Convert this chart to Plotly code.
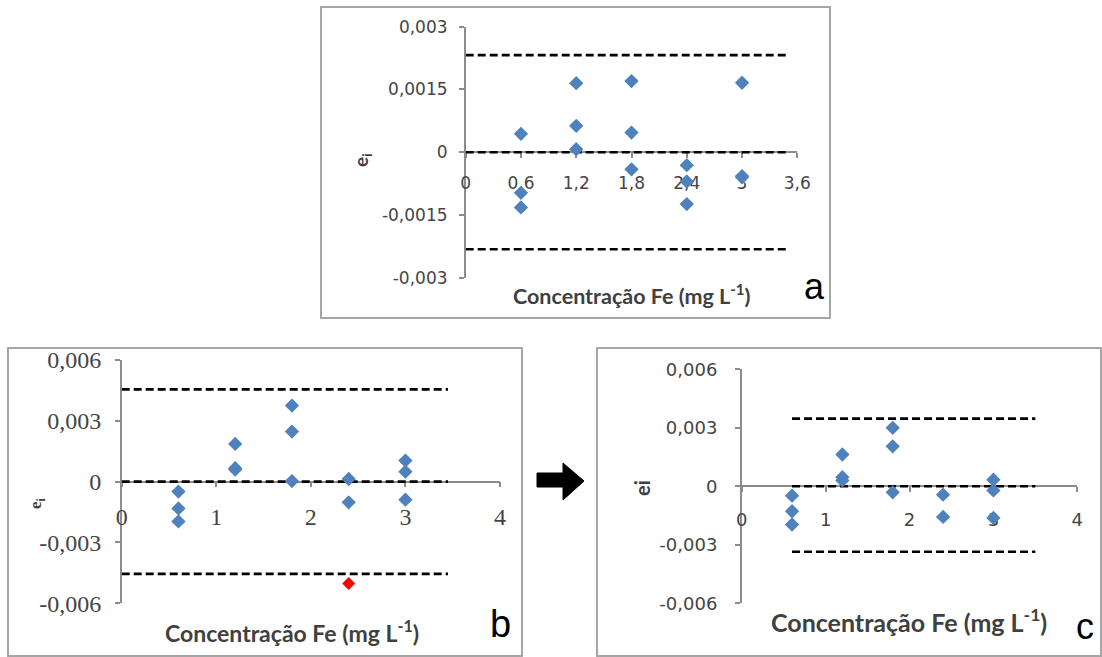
import plotly.graph_objects as go

# ---------------- data ----------------
a_x = [0.6, 0.6, 0.6, 1.2, 1.2, 1.2, 1.8, 1.8, 1.8, 2.4, 2.4, 2.4, 3.0, 3.0, 3.0]
a_y = [0.00044, -0.00097, -0.00132, 0.00165, 0.00063, 0.00007, 0.00170, 0.00047,
       -0.00041, -0.00031, -0.00070, -0.00124, 0.00166, -0.00057, -0.00060]

b_x = [0.6, 0.6, 0.6, 1.2, 1.2, 1.2, 1.8, 1.8, 1.8, 2.4, 2.4, 3.0, 3.0, 3.0]
b_y = [-0.00049, -0.00132, -0.00196, 0.00186, 0.00066, 0.00060, 0.00375, 0.00247,
       0.00003, 0.00013, -0.00102, 0.00104, 0.00049, -0.00089]
b_out_x = [2.4]
b_out_y = [-0.00502]

c_x = [0.6, 0.6, 0.6, 1.2, 1.2, 1.2, 1.8, 1.8, 1.8, 2.4, 2.4, 3.0, 3.0, 3.0]
c_y = [-0.00048, -0.00128, -0.00196, 0.00163, 0.00047, 0.00030, 0.00300, 0.00205,
       -0.00031, -0.00043, -0.00157, 0.00034, -0.00021, -0.00162]

a_lim_x = [0, 3.5]
a_lims = [0.00232, 0.0, -0.00232]
b_lim_x = [0, 3.45]
b_lims = [0.00455, 0.0, -0.00455]
c_lim_x = [0.6, 3.5]
c_lims = [0.00347, 0.0, -0.00336]

a_xticks = [0, 0.6, 1.2, 1.8, 2.4, 3, 3.6]
a_xtext = ["0", "0,6", "1,2", "1,8", "2,4", "3", "3,6"]
a_yticks = [-0.003, -0.0015, 0, 0.0015, 0.003]
a_ytext = ["-0,003", "-0,0015", "0", "0,0015", "0,003"]
bc_xticks = [0, 1, 2, 3, 4]
bc_xtext = ["0", "1", "2", "3", "4"]
bc_yticks = [-0.006, -0.003, 0, 0.003, 0.006]
bc_ytext = ["-0,006", "-0,003", "0", "0,003", "0,006"]

x_title = "Concentração Fe (mg L<sup>-1</sup>)"

# ---------------- style ----------------
W, H = 1102, 657
BLUE = "#4F81BD"
RED = "#FF0000"
AXC = "#8c8c8c"
TXT = "#454545"
DASH = "8px,4px"


def px(x):
    return x / W


def py(y):
    return 1 - y / H


fig = go.Figure()

panels = [
    ("x", "y", a_x, a_y, a_lim_x, a_lims),
    ("x2", "y2", b_x, b_y, b_lim_x, b_lims),
    ("x3", "y3", c_x, c_y, c_lim_x, c_lims),
]
for xa, ya, xs, ys, lx, lims in panels:
    for v in lims:
        fig.add_trace(go.Scatter(x=lx, y=[v, v], mode="lines", xaxis=xa, yaxis=ya,
                                 line=dict(color="black", width=2.6, dash=DASH),
                                 hoverinfo="skip", showlegend=False))
    fig.add_trace(go.Scatter(x=xs, y=ys, mode="markers", xaxis=xa, yaxis=ya,
                             marker=dict(symbol="diamond", size=11, color=BLUE),
                             showlegend=False))

fig.add_trace(go.Scatter(x=b_out_x, y=b_out_y, mode="markers", xaxis="x2", yaxis="y2",
                         marker=dict(symbol="diamond", size=10, color=RED),
                         showlegend=False))


def xaxis(dom, rng, pos, tv, tt, font, standoff):
    return dict(domain=dom, range=rng, anchor="free", position=pos,
                tickvals=tv, ticktext=tt, showgrid=False, zeroline=False,
                showline=True, linecolor=AXC, linewidth=1.5,
                ticks="outside", ticklen=5, tickcolor=AXC, tickwidth=1.5,
                tickfont=font, ticklabelstandoff=standoff,
                layer="below traces", automargin=False, fixedrange=True)


def yaxis(dom, rng, anchor, tv, tt, font, standoff):
    return dict(domain=dom, range=rng, anchor=anchor,
                tickvals=tv, ticktext=tt, showgrid=False, zeroline=False,
                showline=True, linecolor=AXC, linewidth=1.5,
                ticks="outside", ticklen=5, tickcolor=AXC, tickwidth=1.5,
                tickfont=font, ticklabelstandoff=standoff,
                layer="below traces", automargin=False, fixedrange=True)


fa = dict(family="DejaVu Sans", size=17, color=TXT)
fb = dict(family="Liberation Serif", size=24, color=TXT)
fc = dict(family="DejaVu Sans", size=18, color=TXT)

layout = dict(
    width=W, height=H, margin=dict(l=0, r=0, t=0, b=0),
    paper_bgcolor="white", plot_bgcolor="white", showlegend=False,
    xaxis=xaxis([px(465.7), px(797.3)], [0, 3.6], py(152.2), a_xticks, a_xtext, fa, 11),
    yaxis=yaxis([py(277.7), py(26.7)], [-0.003, 0.003], "x", a_yticks, a_ytext, fa, 8),
    xaxis2=xaxis([px(121.7), px(500)], [0, 4], py(481.7), bc_xticks, bc_xtext, fb, 9),
    yaxis2=yaxis([py(603.3), py(360)], [-0.006, 0.006], "x2", bc_yticks, bc_ytext, fb, 9),
    xaxis3=xaxis([px(741.7), px(1077.3)], [0, 4], py(486.3), bc_xticks, bc_xtext, fc, 12),
    yaxis3=yaxis([py(603.3), py(369.3)], [-0.006, 0.006], "x3", bc_yticks, bc_ytext, fc, 14),
)
fig.update_layout(**layout)

# panel frames
frames = [(321, 7, 830, 318), (8, 348, 522, 656), (597, 348, 1101, 656)]
shapes = []
for x0, y0, x1, y1 in frames:
    shapes.append(dict(type="rect", xref="paper", yref="paper",
                       x0=px(x0), x1=px(x1), y0=py(y1), y1=py(y0),
                       line=dict(color="#a6a6a6", width=2), fillcolor="rgba(0,0,0,0)",
                       layer="below"))

# arrow between b and c
pts = [(537, 473), (563, 473), (563, 463), (584, 481), (563, 500), (563, 487), (537, 487)]
path = "M " + " L ".join(f"{px(x):.5f},{py(y):.5f}" for x, y in pts) + " Z"
shapes.append(dict(type="path", xref="paper", yref="paper", path=path,
                   fillcolor="black", line=dict(color="black", width=1)))
fig.update_layout(shapes=shapes)

ann = []
# x titles
for (cx, cy, s) in [(631.7, 295, 21.5), (291.5, 631.7, 23), (909, 620, 25)]:
    ann.append(dict(text="<b>" + x_title + "</b>", x=px(cx), y=py(cy), xref="paper",
                    yref="paper", showarrow=False, xanchor="center", yanchor="middle",
                    font=dict(family="Lato", size=s, color="#404040")))
# y titles
ann.append(dict(text="<b>e<sub>i</sub></b>", x=px(362), y=py(160), xref="paper", yref="paper",
                xanchor="center", yanchor="middle",
                showarrow=False, textangle=-90, font=dict(family="Lato", size=19, color="#404040")))
ann.append(dict(text="<b>e<sub>i</sub></b>", x=px(37), y=py(503), xref="paper", yref="paper",
                xanchor="center", yanchor="middle",
                showarrow=False, textangle=-90, font=dict(family="Liberation Serif", size=17, color="#404040")))
ann.append(dict(text="<b>ei</b>", x=px(642), y=py(488), xref="paper", yref="paper",
                xanchor="center", yanchor="middle",
                showarrow=False, textangle=-90, font=dict(family="Lato", size=20, color="#404040")))
# panel letters
for t, cx, cy, s in [("a", 814, 286, 36), ("b", 500, 624, 38), ("c", 1084.5, 626, 36)]:
    ann.append(dict(text=t, x=px(cx), y=py(cy), xref="paper", yref="paper", showarrow=False,
                    xanchor="center", yanchor="middle",
                    font=dict(family="Liberation Sans", size=s, color="black")))
fig.update_layout(annotations=ann)

fig.write_html("out.html")
